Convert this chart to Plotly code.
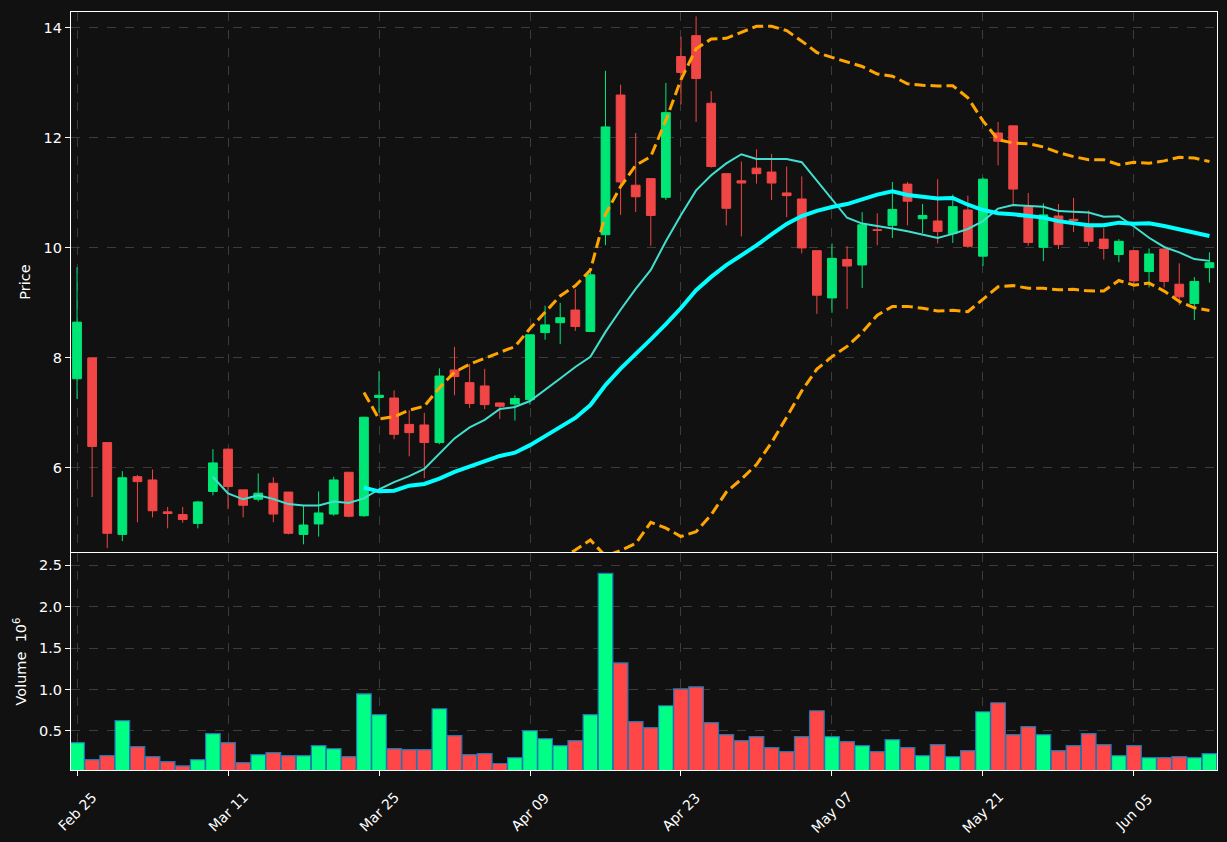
import pandas as pd
import plotly.graph_objects as go

# ---- data ----
trading_days = [d for d in pd.bdate_range("2026-02-25", "2026-06-12")
                if d.strftime("%Y-%m-%d") not in ("2026-04-03", "2026-05-25")]
dates = [d.strftime("%Y-%m-%d") for d in trading_days]

opens = [7.62, 8.00, 6.46, 4.79, 5.84, 5.78, 5.20, 5.15, 4.99, 5.57,
         6.34, 5.60, 5.43, 5.72, 5.56, 4.79, 4.98, 5.16, 5.92, 5.13,
         7.28, 7.27, 6.79, 6.78, 6.46, 7.78, 7.55, 7.49, 7.18, 7.16,
         7.24, 8.46, 8.64, 8.87, 8.48, 10.24, 12.78, 11.14, 11.26, 10.92,
         13.48, 13.86, 12.63, 11.35, 11.22, 11.45, 11.38, 11.00, 10.89, 9.95,
         9.09, 9.79, 9.69, 10.33, 10.41, 11.16, 10.53, 10.49, 10.26, 10.69,
         9.85, 12.09, 12.22, 10.75, 10.01, 10.58, 10.52, 10.39, 10.16, 9.88,
         9.95, 9.57, 9.98, 9.34, 8.99, 9.64]
highs = [9.65, 8.00, 6.46, 5.94, 5.87, 5.97, 5.29, 5.29, 5.40, 6.34,
         6.35, 5.60, 5.90, 5.83, 5.56, 5.31, 5.57, 5.84, 5.92, 6.93,
         7.76, 7.41, 7.05, 7.00, 7.81, 8.20, 7.89, 7.80, 7.19, 7.32,
         8.42, 8.95, 9.00, 9.25, 9.59, 13.22, 12.97, 12.09, 11.27, 13.00,
         13.84, 14.21, 12.85, 11.35, 11.57, 11.79, 11.71, 11.48, 11.30, 9.95,
         10.08, 10.03, 10.65, 10.63, 11.20, 11.20, 10.80, 11.25, 10.97, 10.95,
         11.28, 12.29, 12.22, 11.00, 10.81, 10.80, 10.91, 10.68, 10.36, 10.16,
         9.95, 9.99, 9.98, 9.72, 9.47, 9.92]
lows = [7.25, 5.47, 4.54, 4.67, 5.01, 5.10, 4.90, 5.00, 4.90, 5.50,
        5.25, 5.10, 5.39, 5.01, 4.79, 4.61, 4.75, 5.13, 5.10, 5.11,
        7.00, 6.52, 6.21, 5.81, 6.43, 7.32, 7.09, 7.07, 6.89, 6.86,
        7.15, 8.33, 8.25, 8.49, 8.48, 10.05, 10.60, 10.65, 10.04, 10.87,
        12.61, 12.29, 11.46, 10.41, 10.21, 11.17, 10.87, 10.56, 9.90, 8.80,
        8.82, 8.89, 9.27, 10.05, 10.18, 10.41, 10.27, 10.08, 10.09, 10.00,
        9.67, 11.50, 10.77, 10.04, 9.76, 9.98, 10.29, 10.04, 9.79, 9.74,
        9.30, 9.28, 9.28, 8.96, 8.69, 9.37]
closes = [8.65, 6.39, 4.81, 5.82, 5.75, 5.22, 5.17, 5.06, 5.38, 6.09,
          5.66, 5.32, 5.54, 5.16, 4.81, 4.96, 5.18, 5.78, 5.12, 6.92,
          7.32, 6.61, 6.64, 6.46, 7.67, 7.66, 7.17, 7.15, 7.12, 7.26,
          8.42, 8.60, 8.73, 8.57, 9.51, 12.20, 11.20, 10.93, 10.59, 12.46,
          13.19, 13.08, 11.48, 10.72, 11.18, 11.35, 11.18, 10.95, 10.00, 9.14,
          9.81, 9.67, 10.42, 10.32, 10.70, 10.85, 10.59, 10.30, 10.75, 10.03,
          11.25, 11.94, 11.07, 10.10, 10.60, 10.06, 10.50, 10.12, 9.99, 10.12,
          9.40, 9.89, 9.39, 9.11, 9.39, 9.73]
volume_millions = [0.36, 0.156, 0.204, 0.624, 0.312, 0.192, 0.132, 0.08, 0.156, 0.468,
                   0.36, 0.12, 0.216, 0.24, 0.204, 0.204, 0.324, 0.288, 0.192, 0.948,
                   0.696, 0.288, 0.276, 0.276, 0.768, 0.444, 0.216, 0.228, 0.108, 0.18,
                   0.504, 0.408, 0.324, 0.384, 0.696, 2.40, 1.32, 0.612, 0.54, 0.804,
                   1.008, 1.032, 0.60, 0.456, 0.384, 0.432, 0.30, 0.252, 0.432, 0.744,
                   0.432, 0.372, 0.324, 0.252, 0.396, 0.30, 0.204, 0.336, 0.192, 0.264,
                   0.732, 0.84, 0.456, 0.552, 0.456, 0.264, 0.324, 0.468, 0.336, 0.204,
                   0.324, 0.18, 0.18, 0.192, 0.18, 0.228]
tick_labels = ["Feb 25", "Mar 11", "Mar 25", "Apr 09", "Apr 23", "May 07", "May 21", "Jun 05"]
tick_dates = dates[::10]

# ---- indicators ----
cs = pd.Series(closes)
ma10 = cs.rolling(10).mean()
ma20 = cs.rolling(20).mean()
sd20 = cs.rolling(20).std(ddof=0)
bb_up = ma20 + 2 * sd20
bb_lo = ma20 - 2 * sd20

UP_C, DN_C = "#00e676", "#f04646"
VUP_C, VDN_C = "#00ff85", "#ff4747"

fig = go.Figure()
fig.add_trace(go.Candlestick(
    x=dates, open=opens, high=highs, low=lows, close=closes,
    increasing=dict(line=dict(color=UP_C, width=1), fillcolor=UP_C),
    decreasing=dict(line=dict(color=DN_C, width=1), fillcolor=DN_C),
    whiskerwidth=0, xaxis="x", yaxis="y", showlegend=False, hoverinfo="skip"))
fig.add_trace(go.Scatter(x=dates, y=ma10, mode="lines",
                         line=dict(color="#40e0d0", width=2), xaxis="x", yaxis="y", showlegend=False))
fig.add_trace(go.Scatter(x=dates, y=ma20, mode="lines",
                         line=dict(color="#00ffff", width=4), xaxis="x", yaxis="y", showlegend=False))
for band in (bb_up, bb_lo):
    fig.add_trace(go.Scatter(x=dates, y=band, mode="lines",
                             line=dict(color="#ffa500", width=3, dash="11px,5px"),
                             xaxis="x", yaxis="y", showlegend=False))

vcolors = [VUP_C if c >= o else VDN_C for o, c in zip(opens, closes)]
fig.add_trace(go.Bar(x=dates, y=volume_millions, marker=dict(color=vcolors, line=dict(color="#1f77b4", width=1.2)),
                     width=0.97, xaxis="x2", yaxis="y2", showlegend=False))

grid = dict(showgrid=True, gridcolor="#3c3c3c", griddash="dash", gridwidth=1,
            showline=True, linecolor="white", linewidth=1.2, mirror=True, zeroline=False)
fnt = dict(family="DejaVu Sans", size=14.5, color="white")
xfnt = dict(family="DejaVu Sans", size=14, color="white")

# x tick labels: rotated 45 degrees, centred under each tick (matplotlib style)
annotations = [dict(x=d, y=-0.0554, xref="x2", yref="paper", text=lab, textangle=-45,
                    showarrow=False, xanchor="center", yanchor="middle", font=xfnt)
               for d, lab in zip(tick_dates, tick_labels)]

fig.update_layout(
    width=1227, height=842,
    paper_bgcolor="#111111", plot_bgcolor="#111111",
    margin=dict(l=71, r=10, t=12, b=72),
    font=fnt, boxgap=0.42, boxgroupgap=0,
    annotations=annotations,
    xaxis=dict(domain=[0, 1], anchor="y", type="category", range=[-0.4, 75.5],
               tickvals=tick_dates, showticklabels=False, ticks="", rangeslider=dict(visible=False), **grid),
    yaxis=dict(domain=[0.2876, 1], anchor="x", range=[4.47, 14.29], tickvals=[6, 8, 10, 12, 14],
               ticks="outside", ticklen=5, tickcolor="white", tickfont=fnt,
               title=dict(text="Price", font=fnt, standoff=9), **grid),
    xaxis2=dict(domain=[0, 1], anchor="y2", type="category", range=[-0.4, 75.5], matches="x",
                tickvals=tick_dates, showticklabels=False,
                ticks="outside", ticklen=5, tickcolor="white", **grid),
    yaxis2=dict(domain=[0, 0.2863], anchor="x2", range=[0.03, 2.645],
                tickvals=[0.5, 1.0, 1.5, 2.0, 2.5], ticktext=["0.5", "1.0", "1.5", "2.0", "2.5"],
                ticks="outside", ticklen=5, tickcolor="white", tickfont=fnt,
                title=dict(text="Volume  10<sup>6</sup>", font=fnt, standoff=8), **grid),
)

fig.write_html("out.html")
